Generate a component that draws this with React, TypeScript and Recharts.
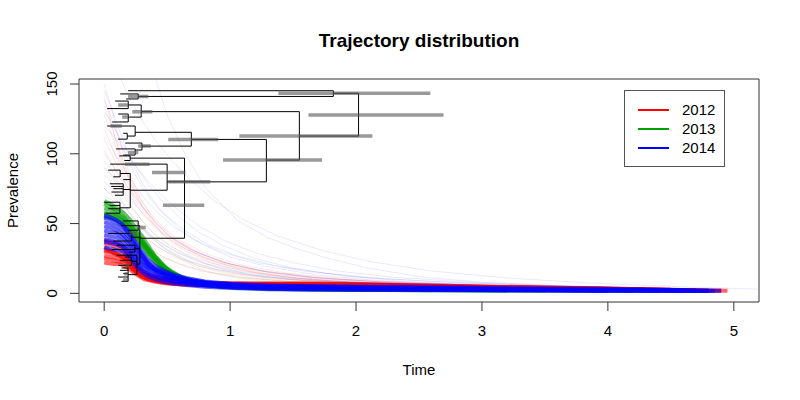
import React from "react";
import { ComposedChart, Line, XAxis, YAxis, ReferenceArea } from "recharts";

type Pt = [number, number];

const X_DOMAIN: [number, number] = [-0.2, 5.2];
const Y_DOMAIN: [number, number] = [-6.2, 153.6];
const xTicks = [0, 1, 2, 3, 4, 5];
const yTicks = [0, 50, 100, 150];
const years = ["2012", "2013", "2014"];

// dense trajectories, one list per year
const core2012: Pt[][] = [
  [[0, 36], [0.05, 35], [0.1, 33], [0.15, 30], [0.2, 24], [0.25, 18], [0.3, 14], [0.4, 11], [0.5, 9], [0.7, 7.5], [1, 6.8], [1.5, 6.5], [2, 6], [2.5, 5], [3, 4.2], [3.5, 3.8], [4, 3], [4.5, 2.4], [4.9, 1.8]],
  [[0, 30], [0.06, 29], [0.12, 27], [0.18, 24], [0.24, 19], [0.3, 14], [0.36, 11], [0.45, 9], [0.6, 7], [0.9, 6], [1.4, 6.2], [2, 5.6], [2.6, 4.6], [3.2, 4], [3.8, 3.4], [4.4, 2.6], [4.8, 2]],
  [[0, 25], [0.05, 24], [0.1, 23], [0.16, 22], [0.22, 18], [0.28, 13], [0.35, 10], [0.45, 8], [0.6, 6.5], [0.8, 6], [1.2, 5.8], [1.8, 5.5], [2.4, 4.8], [3, 4], [3.6, 3.5], [4.2, 2.8], [4.7, 2]],
  [[0, 33], [0.04, 31], [0.09, 29], [0.14, 27], [0.2, 22], [0.27, 15], [0.33, 11], [0.42, 9], [0.55, 7.5], [0.75, 6.5], [1.1, 6.5], [1.6, 6.8], [2.1, 6.4], [2.7, 5.2], [3.3, 4.3], [3.9, 3.6], [4.5, 2.5]],
  [[0, 22], [0.07, 21], [0.13, 21], [0.19, 18], [0.25, 14], [0.32, 10], [0.4, 8.5], [0.5, 7], [0.7, 6], [1, 5.5], [1.5, 5.4], [2.2, 5], [2.8, 4.3], [3.4, 3.6], [4, 3], [4.6, 2.2]],
  [[0, 38], [0.05, 37], [0.1, 36], [0.15, 33], [0.2, 27], [0.26, 20], [0.32, 15], [0.4, 12], [0.5, 10], [0.65, 8], [0.9, 7.4], [1.3, 7.2], [1.9, 6.8], [2.5, 5.8], [3.1, 4.8], [3.7, 3.9], [4.3, 3]],
  [[0, 27], [0.06, 26], [0.11, 25], [0.17, 23], [0.23, 17], [0.3, 12], [0.38, 9.5], [0.5, 7.6], [0.7, 6.4], [1, 6], [1.4, 5.8], [2, 5.5], [2.6, 4.9], [3.2, 4.1], [3.8, 3.4], [4.4, 2.6], [4.95, 1.8]],
  [[0, 31], [0.05, 30], [0.1, 28], [0.16, 26], [0.22, 21], [0.28, 16], [0.35, 12], [0.44, 9.6], [0.58, 8], [0.8, 7], [1.2, 6.6], [1.7, 6.4], [2.3, 5.7], [2.9, 4.7], [3.5, 4], [4.1, 3.2], [4.7, 2.3]],
];

const core2013: Pt[][] = [
  [[0, 64], [0.05, 62], [0.1, 59], [0.15, 55], [0.2, 50], [0.25, 44], [0.3, 38], [0.36, 31], [0.42, 25], [0.48, 19], [0.55, 15], [0.62, 11], [0.75, 8], [1, 5.5], [1.3, 4], [1.7, 3.2], [2.2, 2.8], [2.8, 2.4], [3.5, 2], [4.2, 1.6]],
  [[0, 58], [0.05, 57], [0.1, 55], [0.15, 52], [0.2, 47], [0.25, 41], [0.3, 35], [0.36, 28], [0.42, 22], [0.48, 17], [0.56, 13], [0.65, 9.5], [0.8, 7], [1, 5], [1.3, 3.6], [1.7, 3], [2.2, 2.6], [2.8, 2.2], [3.5, 1.9]],
  [[0, 61], [0.05, 60], [0.1, 57], [0.15, 54], [0.2, 49], [0.26, 42], [0.32, 35], [0.38, 28], [0.44, 22], [0.5, 17], [0.58, 13], [0.68, 9], [0.85, 6], [1.1, 4.2], [1.4, 3.3], [1.8, 2.9], [2.3, 2.6]],
  [[0, 55], [0.05, 54], [0.1, 52], [0.15, 49], [0.2, 45], [0.25, 40], [0.3, 34], [0.35, 28], [0.41, 22], [0.47, 16], [0.54, 12], [0.62, 9], [0.75, 6.5], [0.95, 4.5], [1.25, 3.4], [1.6, 2.8], [2, 2.5], [2.6, 2.2]],
  [[0, 66], [0.05, 64], [0.1, 61], [0.15, 58], [0.2, 53], [0.25, 47], [0.3, 41], [0.35, 34], [0.4, 27], [0.46, 21], [0.52, 16], [0.6, 12], [0.7, 9], [0.9, 6], [1.2, 4.3], [1.6, 3.3], [2.1, 2.8]],
  [[0, 57], [0.06, 56], [0.12, 53], [0.18, 48], [0.24, 42], [0.3, 36], [0.36, 29], [0.42, 23], [0.5, 17], [0.58, 12], [0.68, 8.5], [0.85, 5.5], [1.1, 3.8], [1.5, 3], [2, 2.6], [2.6, 2.2], [3.2, 1.8]],
];

const core2014: Pt[][] = [
  [[0, 54], [0.05, 53], [0.1, 51], [0.15, 48], [0.2, 42], [0.25, 35], [0.3, 28], [0.35, 22], [0.4, 18], [0.48, 15], [0.56, 12.5], [0.67, 10], [0.85, 7.5], [1.1, 6], [1.4, 5.2], [1.8, 4.8], [2.2, 4.4], [2.7, 3.8], [3.2, 3.2], [3.8, 2.8], [4.4, 2.3], [4.9, 1.8]],
  [[0, 48], [0.05, 47], [0.1, 45], [0.15, 42], [0.2, 37], [0.25, 31], [0.3, 25], [0.35, 20], [0.42, 16], [0.5, 13], [0.6, 10.5], [0.72, 8.5], [0.9, 6.5], [1.2, 5], [1.6, 4.3], [2, 4], [2.5, 3.5], [3, 3], [3.6, 2.6], [4.2, 2.2], [4.8, 1.8]],
  [[0, 42], [0.05, 41], [0.1, 40], [0.15, 37], [0.2, 32], [0.25, 26], [0.3, 21], [0.36, 17], [0.44, 13.5], [0.52, 11], [0.62, 9], [0.75, 7], [0.95, 5.5], [1.25, 4.3], [1.65, 3.7], [2.1, 3.4], [2.6, 3], [3.1, 2.7], [3.7, 2.3], [4.3, 2], [4.85, 1.6]],
  [[0, 37], [0.05, 36], [0.1, 35], [0.15, 33], [0.2, 28], [0.25, 22], [0.3, 17], [0.36, 13.5], [0.44, 11], [0.52, 9], [0.62, 7.5], [0.75, 6], [0.95, 4.7], [1.25, 3.7], [1.65, 3.2], [2.1, 3], [2.6, 2.7], [3.2, 2.4], [3.8, 2.1], [4.4, 1.8]],
  [[0, 51], [0.05, 50], [0.1, 48], [0.15, 45], [0.2, 40], [0.25, 34], [0.3, 27], [0.35, 21], [0.41, 16.5], [0.48, 13.5], [0.57, 11], [0.68, 9], [0.85, 7], [1.1, 5.6], [1.45, 4.8], [1.9, 4.4], [2.4, 4], [2.9, 3.4], [3.5, 2.9], [4.1, 2.5], [4.7, 2]],
  [[0, 33], [0.05, 32], [0.1, 31], [0.15, 30], [0.2, 26], [0.25, 20], [0.3, 15], [0.36, 11.5], [0.44, 9], [0.53, 7.3], [0.65, 6], [0.8, 4.8], [1, 3.8], [1.3, 3], [1.7, 2.6], [2.2, 2.4], [2.8, 2.2], [3.4, 2], [4, 1.7]],
  [[0, 45], [0.05, 44], [0.1, 43], [0.15, 40], [0.2, 35], [0.25, 29], [0.3, 23], [0.35, 18.5], [0.42, 15], [0.5, 12], [0.6, 9.8], [0.72, 7.8], [0.9, 6], [1.15, 4.8], [1.5, 4], [1.95, 3.7], [2.45, 3.3], [3, 2.9], [3.6, 2.5], [4.2, 2.1], [4.8, 1.7]],
  [[0, 39], [0.06, 38], [0.12, 36], [0.18, 32], [0.24, 26], [0.3, 19], [0.36, 14.5], [0.44, 11.5], [0.53, 9.2], [0.64, 7.4], [0.78, 6], [0.98, 4.6], [1.3, 3.6], [1.7, 3.1], [2.2, 2.8], [2.8, 2.5], [3.4, 2.2], [4, 1.9], [4.6, 1.6]],
  [[0, 56], [0.04, 55], [0.09, 53], [0.14, 50], [0.19, 45], [0.24, 38], [0.29, 31], [0.34, 25], [0.4, 20], [0.47, 16.5], [0.55, 13.5], [0.65, 11], [0.8, 8.5], [1, 6.8], [1.3, 5.6], [1.7, 5], [2.2, 4.6], [2.8, 4], [3.4, 3.4], [4, 2.9], [4.6, 2.4]],
];

// faint trajectories
const haze2012: Pt[][] = [
  [[0, 150], [0.05, 135], [0.1, 118], [0.15, 100], [0.2, 86], [0.3, 66], [0.4, 52], [0.5, 42], [0.7, 30], [0.9, 22], [1.2, 15], [1.6, 10], [2, 7.5], [2.6, 5.5], [3.2, 4]],
  [[0, 128], [0.05, 116], [0.1, 103], [0.15, 91], [0.2, 80], [0.3, 62], [0.4, 49], [0.5, 39], [0.65, 30], [0.85, 22], [1.1, 16], [1.5, 11], [2, 8], [2.6, 6], [3.4, 4.5]],
  [[0, 110], [0.06, 100], [0.12, 88], [0.18, 77], [0.25, 66], [0.35, 54], [0.45, 44], [0.6, 34], [0.8, 25], [1.05, 18], [1.4, 12.5], [1.8, 9], [2.4, 6.5], [3, 5]],
  [[0, 95], [0.05, 90], [0.1, 82], [0.16, 72], [0.22, 62], [0.3, 52], [0.4, 42], [0.52, 34], [0.7, 26], [0.95, 19], [1.3, 13], [1.7, 9.5], [2.2, 7], [2.8, 5.5]],
  [[0, 85], [0.05, 80], [0.1, 73], [0.15, 65], [0.2, 57], [0.28, 48], [0.38, 39], [0.5, 31], [0.68, 23], [0.9, 17], [1.2, 12], [1.6, 9], [2.1, 6.8], [2.8, 5]],
  [[0, 75], [0.06, 70], [0.12, 63], [0.18, 56], [0.25, 48], [0.33, 40], [0.43, 33], [0.56, 26], [0.75, 19.5], [1, 14.5], [1.35, 10.5], [1.8, 8], [2.4, 6.2]],
  [[0, 140], [0.04, 128], [0.08, 114], [0.12, 101], [0.17, 88], [0.22, 77], [0.3, 63], [0.4, 51], [0.52, 41], [0.7, 31], [0.92, 23], [1.2, 17], [1.6, 12], [2.1, 8.5], [2.7, 6.2], [3.4, 4.6], [4, 3.6]],
  [[0, 65], [0.05, 62], [0.1, 57], [0.15, 51], [0.21, 45], [0.28, 38], [0.36, 32], [0.47, 26], [0.62, 20], [0.82, 15], [1.1, 11], [1.5, 8.3], [2, 6.5], [2.6, 5.2]],
  [[0, 118], [0.05, 108], [0.1, 96], [0.16, 84], [0.23, 72], [0.32, 60], [0.42, 49], [0.55, 39], [0.72, 30], [0.95, 22], [1.25, 16], [1.65, 11.5], [2.2, 8.2], [2.9, 6]],
  [[0, 102], [0.05, 95], [0.11, 85], [0.17, 75], [0.24, 65], [0.33, 54], [0.44, 44], [0.58, 35], [0.78, 26], [1.05, 19], [1.4, 13.5], [1.85, 9.8], [2.5, 7], [3.2, 5.2]],
  [[0, 55], [0.06, 53], [0.12, 49], [0.19, 44], [0.27, 38], [0.36, 32], [0.47, 26], [0.62, 20.5], [0.82, 15.5], [1.1, 11.5], [1.5, 8.6], [2, 6.7], [2.7, 5.2]],
  [[0, 135], [0.05, 122], [0.1, 108], [0.15, 95], [0.2, 83], [0.27, 70], [0.36, 58], [0.47, 47], [0.62, 37], [0.82, 28], [1.08, 20.5], [1.45, 14.5], [1.9, 10.2], [2.5, 7.4], [3.2, 5.5]],
];

const haze2013: Pt[][] = [
  [[0, 75], [0.06, 71], [0.12, 65], [0.19, 58], [0.27, 50], [0.36, 42], [0.46, 34], [0.58, 27], [0.74, 20], [0.95, 14.5], [1.25, 10], [1.65, 7], [2.2, 5]],
  [[0, 90], [0.05, 85], [0.1, 78], [0.16, 69], [0.23, 60], [0.31, 51], [0.41, 42], [0.53, 34], [0.68, 26], [0.88, 19], [1.15, 13.5], [1.5, 9.5], [2, 6.8]],
  [[0, 68], [0.05, 66], [0.1, 63], [0.15, 59], [0.2, 55], [0.26, 50], [0.33, 44], [0.4, 38], [0.48, 32], [0.58, 26], [0.7, 20], [0.85, 15], [1.05, 11], [1.35, 8], [1.8, 5.6]],
];

const haze2014: Pt[][] = [
  [[0.2, 180], [0.4, 156], [0.5, 128], [0.63, 102], [0.8, 76], [1.06, 52], [1.3, 40], [1.5, 33], [1.74, 26], [2.1, 18], [2.54, 11.5], [3, 8], [3.6, 5.5], [4.2, 3.6]],
  [[0, 130], [0.05, 124], [0.1, 115], [0.18, 102], [0.26, 90], [0.35, 78], [0.45, 67], [0.58, 56], [0.75, 44], [0.95, 34], [1.2, 25], [1.5, 18], [1.9, 12.5], [2.4, 8.5], [3, 6], [3.7, 4.2], [4.4, 3]],
  [[0, 145], [0.05, 135], [0.1, 122], [0.15, 110], [0.2, 98], [0.28, 83], [0.36, 70], [0.46, 58], [0.6, 46], [0.78, 35], [1, 26], [1.3, 19], [1.7, 13], [2.2, 9], [2.8, 6.4], [3.5, 4.6]],
  [[0, 100], [0.05, 94], [0.11, 86], [0.18, 77], [0.26, 67], [0.35, 57], [0.46, 47], [0.6, 37], [0.78, 28], [1, 21], [1.3, 15], [1.7, 10.5], [2.2, 7.5], [2.9, 5.4]],
  [[0, 120], [0.08, 112], [0.16, 102], [0.25, 91], [0.35, 80], [0.46, 70], [0.6, 59], [0.76, 48], [0.95, 38], [1.2, 29], [1.5, 22], [1.85, 16], [2.3, 11.5], [2.9, 8], [3.6, 5.6], [4.3, 4]],
  [[0, 80], [0.05, 76], [0.1, 70], [0.16, 63], [0.23, 55], [0.31, 47], [0.41, 39], [0.54, 31], [0.72, 23.5], [0.95, 17], [1.25, 12.3], [1.65, 9], [2.2, 6.6], [2.9, 4.9]],
  [[0, 70], [0.06, 67], [0.12, 62], [0.19, 56], [0.27, 49], [0.36, 42], [0.47, 35], [0.62, 28], [0.82, 21], [1.08, 15.5], [1.42, 11.3], [1.9, 8.3], [2.5, 6.2], [3.2, 4.7]],
  [[0, 138], [0.04, 130], [0.08, 120], [0.13, 108], [0.18, 97], [0.24, 86], [0.31, 75], [0.4, 64], [0.5, 55], [0.64, 45], [0.82, 35], [1.05, 27], [1.35, 20], [1.75, 14.5], [2.25, 10.3], [2.9, 7.3], [3.6, 5.2], [4.4, 3.7]],
  [[0, 90], [0.05, 86], [0.1, 80], [0.17, 72], [0.25, 63], [0.34, 54], [0.45, 45], [0.59, 36], [0.77, 28], [1, 21], [1.3, 15.5], [1.7, 11.2], [2.25, 8], [3, 5.8]],
  [[0, 60], [0.06, 58], [0.12, 55], [0.19, 50], [0.27, 44], [0.37, 37], [0.49, 30], [0.65, 23.5], [0.85, 18], [1.12, 13.5], [1.5, 10], [2, 7.5], [2.7, 5.6], [3.5, 4.2]],
  [[0, 112], [0.05, 106], [0.1, 98], [0.16, 89], [0.23, 79], [0.32, 68], [0.42, 58], [0.55, 48], [0.72, 38], [0.94, 29.5], [1.22, 22], [1.58, 16], [2.05, 11.5], [2.7, 8], [3.4, 5.7]],
  [[0.1, 160], [0.2, 140], [0.3, 124], [0.42, 108], [0.55, 94], [0.7, 80], [0.88, 66], [1.1, 53], [1.38, 41], [1.72, 31], [2.1, 23], [2.6, 16], [3.2, 11], [3.9, 7.2], [4.6, 4.6], [5.2, 3]],
];

// tree: vertical joins [t, vTop, vBottom], branches [tFrom, tTo, v]
const treeJoins: [number, number, number][] = [
  [2.02, 143.4, 112.7], [1.82, 145.2, 141.1], [0.27, 142.9, 139.3], [1.55, 130.2, 95.5],
  [0.294, 135, 126.3], [0.191, 137.8, 132.4], [0.191, 128.5, 122.8], [1.288, 110.3, 79.9],
  [0.692, 115.4, 105.5], [0.246, 119.9, 112.7], [0.183, 114.7, 110.5], [0.3, 107.7, 102.7],
  [0.246, 103.5, 99.1], [0.5, 92.6, 73.9], [0.207, 85.9, 61.3], [0.127, 88.3, 83.5],
  [0.151, 78.5, 70.3], [0.125, 65.3, 57.4],
  [0.638, 96.9, 39.5], [0.206, 98.5, 95.2], [0.283, 48.5, 21], [0.27, 51.9, 45.2],
  [0.217, 42.9, 37.5], [0.244, 34.5, 29.6], [0.26, 27.3, 13.4], [0.217, 26, 20.1], [0.19, 18.2, 8.6],
];

const treeBranches: [number, number, number][] = [
  [1.82, 2.02, 143.4], [0.19, 1.82, 145.2], [0.27, 1.82, 141.1], [0.127, 0.27, 142.9], [0.175, 0.27, 139.3],
  [1.55, 2.02, 112.7], [0.294, 1.55, 130.2], [0.191, 0.294, 135], [0.087, 0.191, 137.8], [0.024, 0.191, 132.4],
  [0.191, 0.294, 126.3], [0.111, 0.191, 128.5], [0.064, 0.191, 122.8], [1.288, 1.55, 95.5], [0.692, 1.288, 110.3],
  [0.246, 0.692, 115.4], [0.024, 0.246, 119.9], [0.183, 0.246, 112.7], [0.151, 0.183, 114.7], [0.111, 0.183, 110.5],
  [0.3, 0.692, 105.5], [0.167, 0.3, 107.7], [0.246, 0.3, 102.7], [0.095, 0.246, 103.5], [0.151, 0.246, 99.1],
  [0.5, 1.288, 79.9], [0.048, 0.5, 92.6], [0.207, 0.5, 73.9], [0.127, 0.207, 85.9], [0.032, 0.127, 88.3],
  [0.072, 0.127, 83.5], [0.151, 0.207, 81.5], [0.151, 0.207, 74.4], [0.045, 0.151, 78.5], [0.056, 0.151, 76.6],
  [0.072, 0.151, 75], [0.058, 0.151, 72.6], [0.085, 0.151, 70.3], [0.125, 0.207, 61.3], [0, 0.125, 65.3],
  [0.045, 0.125, 63], [0.032, 0.125, 60.6], [0.016, 0.125, 57.4],
  [0.206, 0.638, 96.9], [0.12, 0.206, 98.5], [0.16, 0.206, 95.2], [0.283, 0.638, 39.5], [0.27, 0.283, 48.5],
  [0.151, 0.27, 51.9], [0.133, 0.27, 48.5], [0.19, 0.27, 45.2], [0.217, 0.283, 40.2], [0.032, 0.217, 42.9],
  [0.072, 0.217, 37.5], [0.244, 0.283, 32], [0.098, 0.244, 34.5], [0.058, 0.244, 31.4], [0.2, 0.244, 29.6],
  [0.26, 0.283, 21], [0.098, 0.26, 27.3], [0.217, 0.26, 23], [0.165, 0.217, 26], [0.127, 0.217, 23.7],
  [0.111, 0.217, 20.1], [0.19, 0.26, 13.4], [0.138, 0.19, 18.2], [0.125, 0.19, 16.5], [0.151, 0.19, 14.1],
  [0.111, 0.19, 11.7], [0.138, 0.19, 8.6],
];

// node height intervals [tLow, tHigh, v]
const hpdBars: [number, number, number][] = [
  [1.383, 2.59, 143.4], [1.622, 2.695, 127.8], [1.073, 2.13, 112.7], [0.944, 1.73, 95.5],
  [0.509, 0.906, 110.3], [0.467, 0.795, 63.2], [0.509, 0.843, 79.9], [0.38, 0.644, 86.6],
  [0.165, 0.36, 92.6], [0.19, 0.35, 141.1], [0.223, 0.382, 130.2], [0.27, 0.37, 105.5],
  [0.111, 0.19, 135], [0.143, 0.19, 126.3], [0.05, 0.14, 119.9], [0.19, 0.27, 101],
  [0.29, 0.33, 47.2], [0.17, 0.2, 20.1], [0.16, 0.19, 14.1], [0.15, 0.19, 9.5], [0.2, 0.26, 42.9],
];

const COLORS = ["#ff0000", "#00a000", "#0000ff"];
const FONT = "'Liberation Sans', Arial, Helvetica, sans-serif";

const toRows = (pts: Pt[]) => pts.map(([t, v]) => ({ t, v }));

function segRows(segs: [number, number, number, number][]) {
  const rows: { t: number; v: number | null }[] = [];
  segs.forEach(([t1, v1, t2, v2]) => {
    rows.push({ t: t1, v: v1 }, { t: t2, v: v2 }, { t: t2, v: null });
  });
  return rows;
}

const treeRows = segRows([
  ...treeBranches.map(([a, b, v]) => [a, v, b, v] as [number, number, number, number]),
  ...treeJoins.map(([t, a, b]) => [t, a, t, b] as [number, number, number, number]),
]);
const hpdRows = segRows(hpdBars.map(([a, b, v]) => [a, v, b, v] as [number, number, number, number]));

const XTick = ({ x, y, payload }: any) => (
  <text x={x} y={y + 23} textAnchor="middle" fontSize={15} fontFamily={FONT} fill="#000">
    {payload.value}
  </text>
);

const YTick = ({ x, y, payload }: any) => (
  <text
    x={x - 11}
    y={y}
    transform={`rotate(-90, ${x - 11}, ${y})`}
    textAnchor="middle"
    fontSize={15}
    fontFamily={FONT}
    fill="#000"
  >
    {payload.value}
  </text>
);

function series(groups: Pt[][], color: string, width: number, opacity: number, prefix: string) {
  return groups.map((g, i) => (
    <Line
      key={`${prefix}${i}`}
      data={toRows(g)}
      dataKey="v"
      type="linear"
      stroke={color}
      strokeWidth={width}
      strokeOpacity={opacity}
      dot={false}
      activeDot={false}
      isAnimationActive={false}
    />
  ));
}

export default function App() {
  return (
    <div style={{ position: "absolute", left: 0, top: 0, width: 800, height: 400, background: "#fff", fontFamily: FONT }}>
      <ComposedChart width={800} height={400} margin={{ top: 79, right: 41, bottom: 68, left: 49 }}>
        <XAxis
          dataKey="t"
          type="number"
          domain={X_DOMAIN}
          ticks={xTicks}
          allowDataOverflow
          axisLine={false}
          tickLine={{ stroke: "#333" }}
          tickSize={9}
          height={30}
          tick={<XTick />}
        />
        <YAxis
          dataKey="v"
          type="number"
          domain={Y_DOMAIN}
          ticks={yTicks}
          allowDataOverflow
          axisLine={false}
          tickLine={{ stroke: "#333" }}
          tickSize={9}
          width={30}
          tick={<YTick />}
        />
        {series(haze2012, COLORS[0], 1, 0.1, "hr")}
        {series(core2012, COLORS[0], 4, 0.6, "cr")}
        {series(haze2013, COLORS[1], 1, 0.1, "hg")}
        {series(core2013, COLORS[1], 4, 0.6, "cg")}
        {series(haze2014, COLORS[2], 1, 0.09, "hb")}
        {series(core2014, COLORS[2], 4, 0.6, "cb")}
        <Line data={treeRows} dataKey="v" type="linear" stroke="#000" strokeWidth={1} dot={false} activeDot={false} isAnimationActive={false} />
        <Line data={hpdRows} dataKey="v" type="linear" stroke="#555" strokeOpacity={0.6} strokeWidth={3.5} dot={false} activeDot={false} isAnimationActive={false} />
        <ReferenceArea
          x1={X_DOMAIN[0]}
          x2={X_DOMAIN[1]}
          y1={Y_DOMAIN[0]}
          y2={Y_DOMAIN[1]}
          fill="none"
          fillOpacity={0}
          stroke="#333"
          strokeWidth={1}
          ifOverflow="visible"
        />
      </ComposedChart>

      <div style={{ position: "absolute", left: 219, top: 31, width: 400, textAlign: "center", fontSize: 19, lineHeight: "19px", fontWeight: "bold" }}>
        Trajectory distribution
      </div>
      <div style={{ position: "absolute", left: 319, top: 362, width: 200, textAlign: "center", fontSize: 15, lineHeight: "15px" }}>
        Time
      </div>
      <div
        style={{
          position: "absolute",
          left: -48,
          top: 183,
          width: 120,
          height: 15,
          textAlign: "center",
          fontSize: 15,
          lineHeight: "15px",
          transform: "rotate(-90deg)",
        }}
      >
        Prevalence
      </div>

      <div style={{ position: "absolute", left: 624, top: 90, width: 101, height: 77, border: "1px solid #555", boxSizing: "border-box", background: "#fff" }}>
        {years.map((yr, i) => (
          <div key={yr} style={{ position: "absolute", left: 13, top: 9 + i * 19, height: 19, display: "flex", alignItems: "center" }}>
            <div style={{ width: 31, height: 2, background: COLORS[i] }} />
            <span style={{ marginLeft: 13, fontSize: 15, lineHeight: "15px" }}>{yr}</span>
          </div>
        ))}
      </div>
    </div>
  );
}
